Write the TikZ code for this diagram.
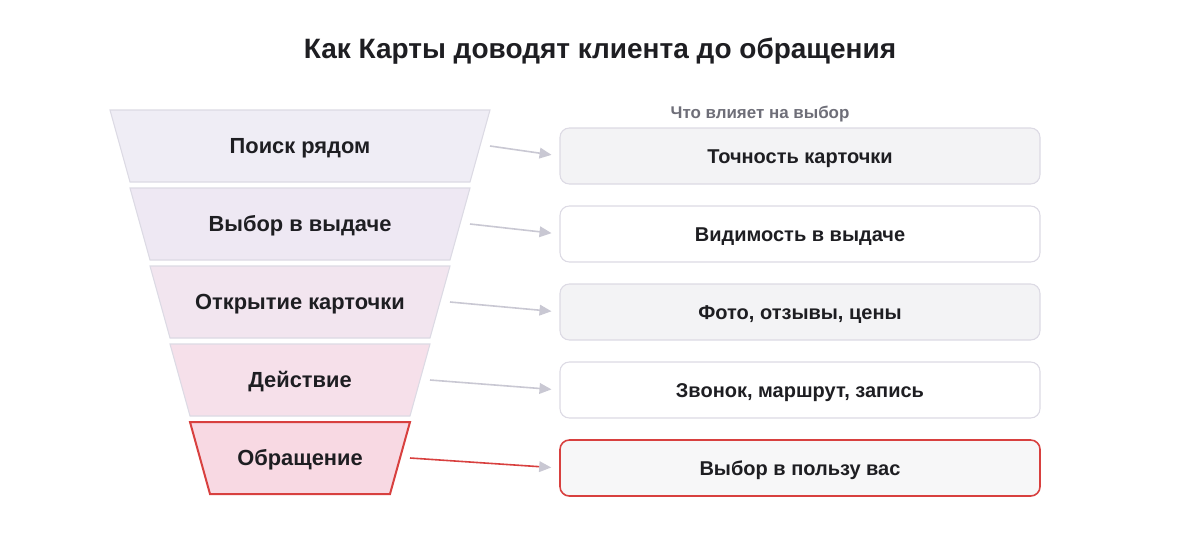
\documentclass[tikz,border=0pt]{standalone}
\usepackage{fontspec}
\setmainfont{Liberation Sans}
\usetikzlibrary{calc,arrows.meta}
\definecolor{ink}{HTML}{1E1E22}
\definecolor{subgray}{HTML}{6E6E78}
\definecolor{edgegray}{HTML}{DCDAE4}
\definecolor{arrgray}{HTML}{C9C8D3}
\definecolor{boxfill}{HTML}{F3F3F5}
\definecolor{accent}{HTML}{D8403F}
\definecolor{stageA}{HTML}{EFEDF5}
\definecolor{stageB}{HTML}{EEE8F3}
\definecolor{stageC}{HTML}{F2E5EF}
\definecolor{stageD}{HTML}{F6E0EA}
\definecolor{stageE}{HTML}{F8D9E3}
\tikzset{stage/.style = {draw=edgegray, line width=0.8pt}}
\tikzset{stagetext/.style = {text=ink, text height=11.7pt, text depth=0pt, font=\fontsize{16.4}{19}\selectfont\bfseries}}
\tikzset{factor/.style = {draw=edgegray, line width=0.8pt, rounded corners=7pt, minimum width=360pt, minimum height=42pt, text height=10.7pt, text depth=0pt, text=ink, font=\fontsize{15}{18}\selectfont\bfseries}}
\tikzset{arr/.style = {draw=arrgray, line width=1.2pt, shorten >=6pt, -{Triangle[length=9pt,width=8pt,color=arrgray,fill=arrgray]}}}

\begin{document}
\begin{tikzpicture}[x=0.75pt, y=-0.75pt]
    \useasboundingbox (0,0) rectangle (1200,540);
    \node[text=ink, text height=15pt, text depth=0pt, font=\fontsize{21}{25}\selectfont\bfseries] (title) at (600,48) {Как Карты доводят клиента до обращения};

    % Funnel
    \fill[stageA] (110,110) -- (490,110) -- (470,182) -- (130,182) -- cycle;
    \draw[stage] (110,110) -- (490,110) -- (470,182) -- (130,182) -- cycle;
    \fill[stageB] (130,188) -- (470,188) -- (450,260) -- (150,260) -- cycle;
    \draw[stage] (130,188) -- (470,188) -- (450,260) -- (150,260) -- cycle;
    \fill[stageC] (150,266) -- (450,266) -- (430,338) -- (170,338) -- cycle;
    \draw[stage] (150,266) -- (450,266) -- (430,338) -- (170,338) -- cycle;
    \fill[stageD] (170,344) -- (430,344) -- (410,416) -- (190,416) -- cycle;
    \draw[stage] (170,344) -- (430,344) -- (410,416) -- (190,416) -- cycle;
    \fill[stageE] (190,422) -- (410,422) -- (390,494) -- (210,494) -- cycle;
    \draw[accent, line width=1.5pt] (190,422) -- (410,422) -- (390,494) -- (210,494) -- cycle;

    \node[stagetext] (s1) at (300,146) {Поиск рядом};
    \node[stagetext] (s2) at (300,224) {Выбор в выдаче};
    \node[stagetext] (s3) at (300,302) {Открытие карточки};
    \node[stagetext] (s4) at (300,380) {Действие};
    \node[stagetext] (s5) at (300,458) {Обращение};

    % Factors
    \node[text=subgray, text height=9.1pt, text depth=0pt, font=\fontsize{12.7}{15}\selectfont\bfseries] (head) at (760,112) {Что влияет на выбор};
    \node[factor, fill=boxfill] (f1) at (800,156) {Точность карточки};
    \node[factor, fill=white] (f2) at (800,234) {Видимость в выдаче};
    \node[factor, fill=boxfill] (f3) at (800,312) {Фото, отзывы, цены};
    \node[factor, fill=white] (f4) at (800,390) {Звонок, маршрут, запись};
    \node[factor, fill=boxfill!70!white, draw=accent, line width=1.2pt] (f5) at (800,468) {Выбор в пользу вас};

    \draw[arr] ($(s1)+(190,0)$) -- (f1.west);
    \draw[arr] ($(s2)+(170,0)$) -- (f2.west);
    \draw[arr] ($(s3)+(150,0)$) -- (f3.west);
    \draw[arr] ($(s4)+(130,0)$) -- (f4.west);
    \draw[arr, draw=accent] ($(s5)+(110,0)$) -- (f5.west);
\end{tikzpicture}
\end{document}
